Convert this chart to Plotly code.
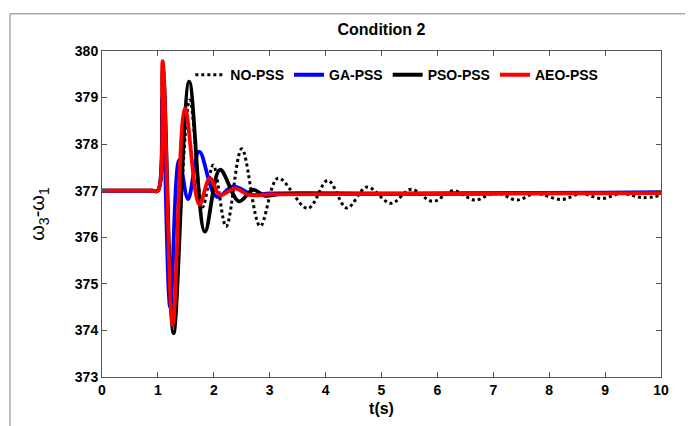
import plotly.graph_objects as go

# ---- data ----
t_no = [0, 0.9, 1.0, 1.09, 1.27, 1.57, 1.80, 1.99, 2.22, 2.50, 2.83, 3.15, 3.68, 4.04, 4.38,
        4.74, 5.17, 5.53, 5.92, 6.28, 6.67, 7.05, 7.42, 7.76, 8.22, 8.57, 8.93, 9.30, 9.67, 10.0]
v_no = [377.0, 377.0, 377.0, 379.6, 374.3, 378.95, 376.65, 377.55, 376.23, 377.9, 376.24, 377.27,
        376.62, 377.22, 376.63, 377.08, 376.73, 377.03, 376.77, 377.0, 376.8, 376.96, 376.8,
        376.94, 376.81, 376.94, 376.83, 376.94, 376.85, 376.9]

t_ga = [0, 0.9, 1.0, 1.08, 1.22, 1.38, 1.54, 1.74, 2.05, 2.35, 2.70, 3.0, 5.0, 7.0, 9.0, 10.0]
v_ga = [377.0, 377.0, 377.0, 379.0, 374.5, 377.66, 376.82, 377.84, 376.87, 377.09, 376.91,
        376.94, 376.94, 376.95, 376.96, 376.97]

t_pso = [0, 0.9, 1.0, 1.09, 1.28, 1.56, 1.84, 2.11, 2.45, 2.70, 2.92, 3.2, 5.0, 7.0, 10.0]
v_pso = [377.0, 377.0, 377.0, 379.6, 373.94, 379.34, 376.12, 377.45, 376.77, 377.02, 376.89,
         376.93, 376.93, 376.94, 376.95]

t_aeo = [0, 0.9, 1.0, 1.085, 1.265, 1.485, 1.74, 1.93, 2.11, 2.38, 2.62, 3.0, 5.0, 7.0, 10.0]
v_aeo = [377.0, 377.0, 377.0, 379.78, 374.12, 378.77, 376.70, 377.27, 376.91, 377.05, 376.91,
         376.92, 376.93, 376.94, 376.95]

x_ticks = [0, 1, 2, 3, 4, 5, 6, 7, 8, 9, 10]
y_ticks = [373, 374, 375, 376, 377, 378, 379, 380]

FONT = "Liberation Sans, Arial, sans-serif"

fig = go.Figure()
fig.add_trace(go.Scatter(x=t_no, y=v_no, mode="lines", name="<b>NO-PSS</b>",
                         line=dict(color="black", width=3, dash="dot", shape="spline", smoothing=1)))
fig.add_trace(go.Scatter(x=t_ga, y=v_ga, mode="lines", name="<b>GA-PSS</b>",
                         line=dict(color="#0000ff", width=3.8, shape="spline", smoothing=1)))
fig.add_trace(go.Scatter(x=t_pso, y=v_pso, mode="lines", name="<b>PSO-PSS</b>",
                         line=dict(color="black", width=3.8, shape="spline", smoothing=1)))
fig.add_trace(go.Scatter(x=t_aeo, y=v_aeo, mode="lines", name="<b>AEO-PSS</b>",
                         line=dict(color="#ff0000", width=3.8, shape="spline", smoothing=1)))

axis_common = dict(showgrid=False, zeroline=False, showline=True, linecolor="#555555",
                   linewidth=1, mirror="ticks", ticks="inside", ticklen=5, tickcolor="#555555",
                   tickfont=dict(family=FONT, size=14, color="black"))

fig.update_xaxes(range=[0, 10], tickvals=x_ticks, ticktext=[f"<b>{v}</b>" for v in x_ticks],
                 title=dict(text="<b>t(s)</b>", font=dict(family=FONT, size=16, color="black"),
                            standoff=6),
                 **axis_common)
fig.update_yaxes(range=[373, 380], tickvals=y_ticks, ticktext=[f"<b>{v}</b>" for v in y_ticks],
                 title=dict(text="ω<sub>3</sub>-ω<sub>1</sub>",
                            font=dict(family=FONT, size=20, color="black"), standoff=24),
                 **axis_common)

# the page adds an 8px body margin; size the figure so the plot area lands where the reference has it
fig.update_layout(
    width=685, height=418,
    margin=dict(l=94, r=32, t=43, b=49),
    paper_bgcolor="white", plot_bgcolor="white",
    title=dict(text="<b>Condition 2</b>", x=0.5, xref="paper", xanchor="center",
               y=0.95, yanchor="middle",
               font=dict(family=FONT, size=16, color="black")),
    legend=dict(orientation="h", x=0.158, y=0.975, xanchor="left", yanchor="top",
                bgcolor="rgba(0,0,0,0)", borderwidth=0,
                font=dict(family=FONT, size=14, color="black"),
                itemwidth=30, tracegroupgap=0),
    showlegend=True,
)

# outer figure frame
fig.add_shape(type="rect", xref="paper", yref="paper",
              x0=-0.1646, x1=1.0555, y0=-0.16, y1=1.114,
              line=dict(color="#808080", width=1), fillcolor="rgba(0,0,0,0)", layer="below")

fig.write_html("out.html")
